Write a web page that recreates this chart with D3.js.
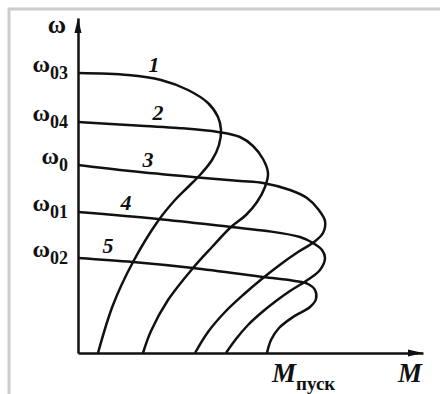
<!DOCTYPE html>
<html>
<head>
<meta charset="utf-8">
<script src="https://cdn.jsdelivr.net/npm/d3@7"></script>
<style>
  html, body { margin: 0; padding: 0; background: #fff; }
  svg { display: block; }
  text { font-family: "Liberation Serif", "DejaVu Serif", serif; fill: #111; }
</style>
</head>
<body>
<script>
// curve numbers and the subscripts of the no-load speeds
const curveNames = ['1', '2', '3', '4', '5']
const levelSubs = ['03', '04', '0', '01', '02']

// mechanical characteristics, [M, ω] (relative units)
const curve1 = [[0, 2.80], [0.50, 2.78], [0.83, 2.73], [1.10, 2.63], [1.30, 2.50], [1.40, 2.36],
  [1.43, 2.23], [1.41, 2.08], [1.34, 1.93], [1.22, 1.78], [1.10, 1.66], [0.97, 1.53],
  [0.80, 1.32], [0.55, 0.91], [0.35, 0.48], [0.20, 0]]
const curve2 = [[0, 2.31], [0.67, 2.27], [1.00, 2.25], [1.40, 2.21], [1.62, 2.16], [1.75, 2.07],
  [1.85, 1.94], [1.90, 1.80], [1.87, 1.66], [1.79, 1.51], [1.68, 1.38], [1.53, 1.26],
  [1.34, 1.06], [1.15, 0.85], [0.90, 0.53], [0.73, 0.22], [0.65, 0]]
const curve3 = [[0, 1.88], [0.52, 1.82], [1.15, 1.76], [1.62, 1.72], [1.85, 1.70], [2.12, 1.63],
  [2.29, 1.55], [2.40, 1.44], [2.47, 1.32], [2.45, 1.20], [2.36, 1.11], [2.20, 1.01],
  [2.03, 0.89], [1.85, 0.75], [1.65, 0.58], [1.47, 0.41], [1.30, 0.21], [1.17, 0]]
const curve4 = [[0, 1.41], [0.80, 1.34], [1.53, 1.26], [1.89, 1.22], [2.22, 1.16], [2.35, 1.10],
  [2.44, 1.03], [2.47, 0.95], [2.42, 0.83], [2.28, 0.72], [2.12, 0.62], [1.98, 0.52],
  [1.83, 0.40], [1.70, 0.28], [1.58, 0.14], [1.48, 0]]
const curve5 = [[0, 0.95], [0.55, 0.91], [1.15, 0.85], [1.85, 0.76], [2.17, 0.72], [2.30, 0.69],
  [2.37, 0.63], [2.38, 0.54], [2.32, 0.46], [2.15, 0.36], [2.01, 0.25], [1.93, 0.13], [1.89, 0]]
const curves = [curve1, curve2, curve3, curve4, curve5]

const width = 440
const height = 394
const xMax = 3.45
const yMax = 3.35

// label placement (pixel offsets from the curve's start), kept apart from data
const numberOffsets = [[76, -1], [80, -2], [70, 2], [48, -2], [30, -5]]

let svg = d3.select('body').append('svg')
  .attr('width', width)
  .attr('height', height)

// scan frame
svg.append('rect')
  .attr('x', 9).attr('y', 9)
  .attr('width', width + 10).attr('height', height + 10)
  .attr('fill', 'none')
  .attr('stroke', '#cdcdcd')
  .attr('stroke-width', 3)

let x = d3.scaleLinear().domain([0, xMax]).range([78, 423])
let y = d3.scaleLinear().domain([0, yMax]).range([353, 18])

// axes
svg.append('g')
  .attr('transform', `translate(0,${y(0)})`)
  .call(d3.axisBottom(x).tickValues([]).tickSizeOuter(0))
svg.append('g')
  .attr('transform', `translate(${x(0)},0)`)
  .call(d3.axisLeft(y).tickValues([]).tickSizeOuter(0))
svg.selectAll('.domain')
  .attr('stroke', '#111')
  .attr('stroke-width', 2.5)

// arrow heads
svg.append('path')
  .attr('d', `M${x(xMax)},${y(0)} L${x(xMax) - 15},${y(0) - 3.5} L${x(xMax) - 15},${y(0) + 3.5} Z`)
  .attr('fill', '#111')
svg.append('path')
  .attr('d', `M${x(0)},${y(yMax)} L${x(0) - 3.5},${y(yMax) + 15} L${x(0) + 3.5},${y(yMax) + 15} Z`)
  .attr('fill', '#111')

let line = d3.line()
  .x(d => x(d[0]))
  .y(d => y(d[1]))
  .curve(d3.curveCatmullRom.alpha(0.5))

svg.append('g')
  .selectAll('path')
  .data(curves)
  .join('path')
  .attr('d', line)
  .attr('fill', 'none')
  .attr('stroke', '#111')
  .attr('stroke-width', 2.5)
  .attr('stroke-linejoin', 'round')

// curve numbers
svg.append('g')
  .selectAll('text')
  .data(curves)
  .join('text')
  .attr('x', (d, i) => x(d[0][0]) + numberOffsets[i][0])
  .attr('y', (d, i) => y(d[0][1]) + numberOffsets[i][1])
  .attr('text-anchor', 'middle')
  .attr('font-size', 22)
  .attr('font-weight', 'bold')
  .attr('font-style', 'italic')
  .text((d, i) => curveNames[i])

// ω level labels
let lv = svg.append('g')
  .selectAll('text')
  .data(curves)
  .join('text')
  .attr('x', 68)
  .attr('y', d => y(d[0][1]) - 1)
  .attr('text-anchor', 'end')
  .attr('font-size', 24)
  .attr('font-weight', 'bold')
lv.append('tspan').text('ω')
lv.append('tspan')
  .attr('dy', 7)
  .attr('font-size', 18)
  .text((d, i) => levelSubs[i])

// axis titles
svg.append('text')
  .attr('x', 57).attr('y', 33)
  .attr('text-anchor', 'middle')
  .attr('font-size', 25)
  .attr('font-weight', 'bold')
  .text('ω')

svg.append('text')
  .attr('x', 398).attr('y', 382)
  .attr('font-size', 27)
  .attr('font-weight', 'bold')
  .attr('font-style', 'italic')
  .text('M')

let mp = svg.append('text')
  .attr('x', 272).attr('y', 382)
  .attr('font-size', 27)
  .attr('font-weight', 'bold')
  .attr('font-style', 'italic')
mp.append('tspan').text('M')
mp.append('tspan')
  .attr('dy', 8)
  .attr('font-size', 19)
  .attr('font-style', 'normal')
  .text('пуск')
</script>
</body>
</html>
